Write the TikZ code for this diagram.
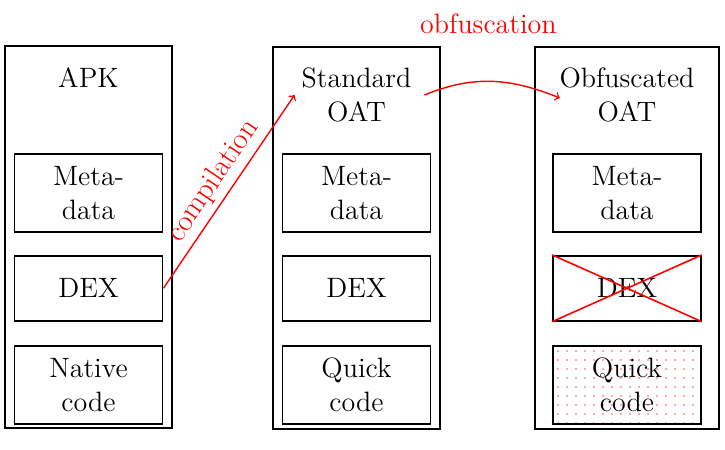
\documentclass[tikz,border=0pt]{standalone}
\usepackage{xcolor}
\usetikzlibrary{positioning,patterns.meta}

\begin{document}
\begin{tikzpicture}[x=0.5pt,y=-0.5pt,node distance=11pt,
        every node/.style={font=\fontsize{14}{17}\selectfont, align=center},
        outer/.style={draw, line width=0.9pt, minimum width=83.5pt, minimum height=191pt},
        part/.style={draw, line width=0.9pt, minimum width=74pt, minimum height=39pt, inner sep=0pt},
        flow/.style={->, red, line width=0.7pt}]
        \useasboundingbox (0,0) rectangle (725,450);
        % containers
        \node[outer] (APK) at (88.5,237) {};
        \node[outer] (Std) at (356.5,238) {};
        \node[outer, minimum width=92pt] (Obf) at (627,238) {};
        \node (APKtitle) at (88.5,78) {APK};
        \node (Stdtitle) at (356.5,95) {Standard\\OAT};
        \node (Obftitle) at (627,95) {Obfuscated\\OAT};

        % APK parts
        \node[part] (APKmeta) at (88.5,193) {Meta-\\data};
        \node[part, minimum height=32.5pt, below=of APKmeta] (APKdex) {DEX};
        \node[part, below=11.5pt of APKdex] (APKcode) {Native\\code};

        % standard OAT parts
        \node[part] (Stdmeta) at (356.5,193) {Meta-\\data};
        \node[part, minimum height=32.5pt, below=of Stdmeta] (Stddex) {DEX};
        \node[part, below=11.5pt of Stddex] (Stdcode) {Quick\\code};

        % obfuscated OAT parts
        \node[part] (Obfmeta) at (627,193) {Meta-\\data};
        \node[part, minimum height=32.5pt, below=of Obfmeta] (Obfdex) {DEX};
        \node[part, below=11.5pt of Obfdex, pattern={Dots[distance=4.5pt, radius=0.6pt]}, pattern color=red!45] (Obfcode) {Quick\\code};
        \draw[red, line width=0.8pt] (Obfdex.north west) -- (Obfdex.south east)
            (Obfdex.south west) -- (Obfdex.north east);

        \draw[flow] (APKdex.east) -- node[midway, above=-1pt, sloped, font=\fontsize{15}{18}\selectfont] {compilation} (Stdtitle.west);
        \draw[flow, shorten >=-4pt] (Stdtitle.east) ++(3pt,0) to[bend left=22] node[midway, above=20pt] {obfuscation} (Obftitle.west);
    \end{tikzpicture}
\end{document}
